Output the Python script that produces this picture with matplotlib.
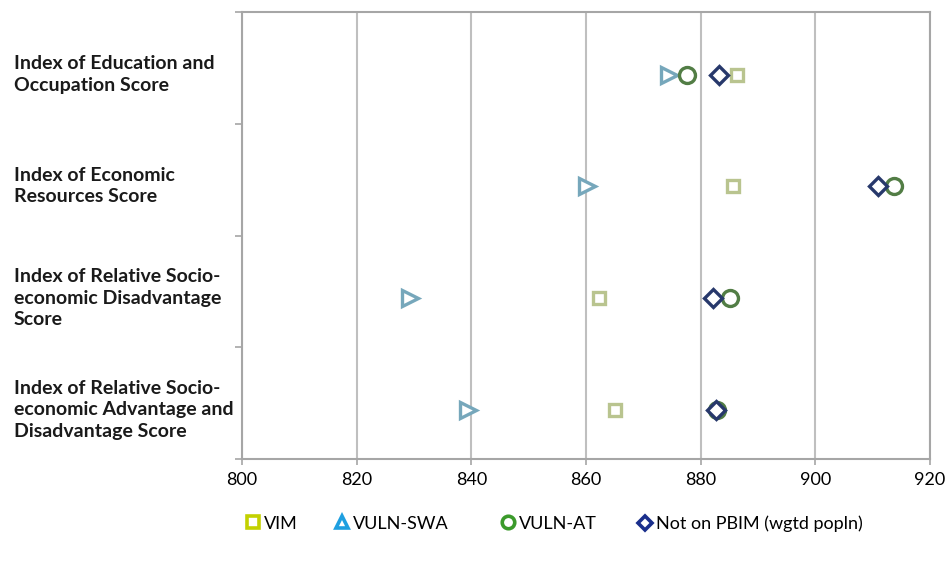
import matplotlib
matplotlib.use("Agg")
import matplotlib.pyplot as plt
from matplotlib.lines import Line2D
from matplotlib.transforms import blended_transform_factory
import numpy as np

categories = [
    "Index of Education and\nOccupation Score",
    "Index of Economic\nResources Score",
    "Index of Relative Socio-\neconomic Disadvantage\nScore",
    "Index of Relative Socio-\neconomic Advantage and\nDisadvantage Score",
]
vim = [886.4, 885.6, 862.2, 865.0]
vuln_swa = [874.5, 860.2, 829.3, 839.4]
vuln_at = [877.7, 913.8, 885.1, 882.9]
not_pbim = [883.2, 911.0, 882.1, 882.7]
x_ticks = [800, 820, 840, 860, 880, 900, 920]

plt.rcParams["font.family"] = ["Lato", "DejaVu Sans"]

fig = plt.figure(figsize=(9.49, 5.63), dpi=100)
ax = fig.add_axes([0.255, 0.1847, 0.725, 0.7940])

ypos = np.arange(len(categories))
grid_c = "#bfbfbf"
spine_c = "#a6a6a6"

series = [
    (vim, "s", "#b9c48f", 9.0, "VIM"),
    (vuln_swa, ">", "#76a7bb", 12.0, "VULN-SWA"),
    (vuln_at, "o", "#527d45", 11.5, "VULN-AT"),
    (not_pbim, "D", "#27386b", 9.0, "Not on PBIM (wgtd popln)"),
]
for vals, mk, col, ms, name in series:
    ax.plot(vals, ypos, linestyle="none", marker=mk, markersize=ms,
            markerfacecolor="white", markeredgecolor=col, markeredgewidth=2.4,
            zorder=3)

ax.set_xlim(x_ticks[0], x_ticks[-1])
ax.set_ylim(3.44, -0.56)
ax.set_xticks(x_ticks)
ax.set_xticklabels([str(v) for v in x_ticks], fontsize=13)
ax.xaxis.grid(True, color=grid_c, linewidth=1.5)
ax.set_axisbelow(True)
ax.tick_params(axis="x", length=4, color=spine_c, width=1.2, pad=5)

# category boundary ticks on the left spine
ax.set_yticks(np.arange(-0.56, 3.45, 1.0))
ax.set_yticklabels([])
ax.tick_params(axis="y", length=5, color=spine_c, width=1.2)
for s in ax.spines.values():
    s.set_color(spine_c)
    s.set_linewidth(1.5)

label_tf = blended_transform_factory(fig.transFigure, ax.transData)
for i, lab in enumerate(categories):
    ax.text(14 / 949, ypos[i], lab, transform=label_tf, ha="left", va="center",
            fontsize=14, fontweight="bold", linespacing=1.3, color="#1a1a1a")

# legend entries
legend_items = [
    ("s", "#c3d100", "VIM", 0.258),
    ("^", "#1e9fe0", "VULN-SWA", 0.352),
    ("o", "#3b9a2b", "VULN-AT", 0.527),
    ("D", "#1a2f8c", "Not on PBIM (wgtd popln)", 0.671),
]
for mk, col, name, xl in legend_items:
    h = Line2D([], [], linestyle="none", marker=mk, markersize=9 if mk != "D" else 7.5,
               markerfacecolor="white", markeredgecolor=col, markeredgewidth=2.6)
    fig.legend([h], [name], loc="center left", bbox_to_anchor=(xl, 0.07),
               frameon=False, fontsize=13, handlelength=0.9, handletextpad=0.15,
               borderaxespad=0, borderpad=0)

fig.savefig("out.png", dpi=100)
